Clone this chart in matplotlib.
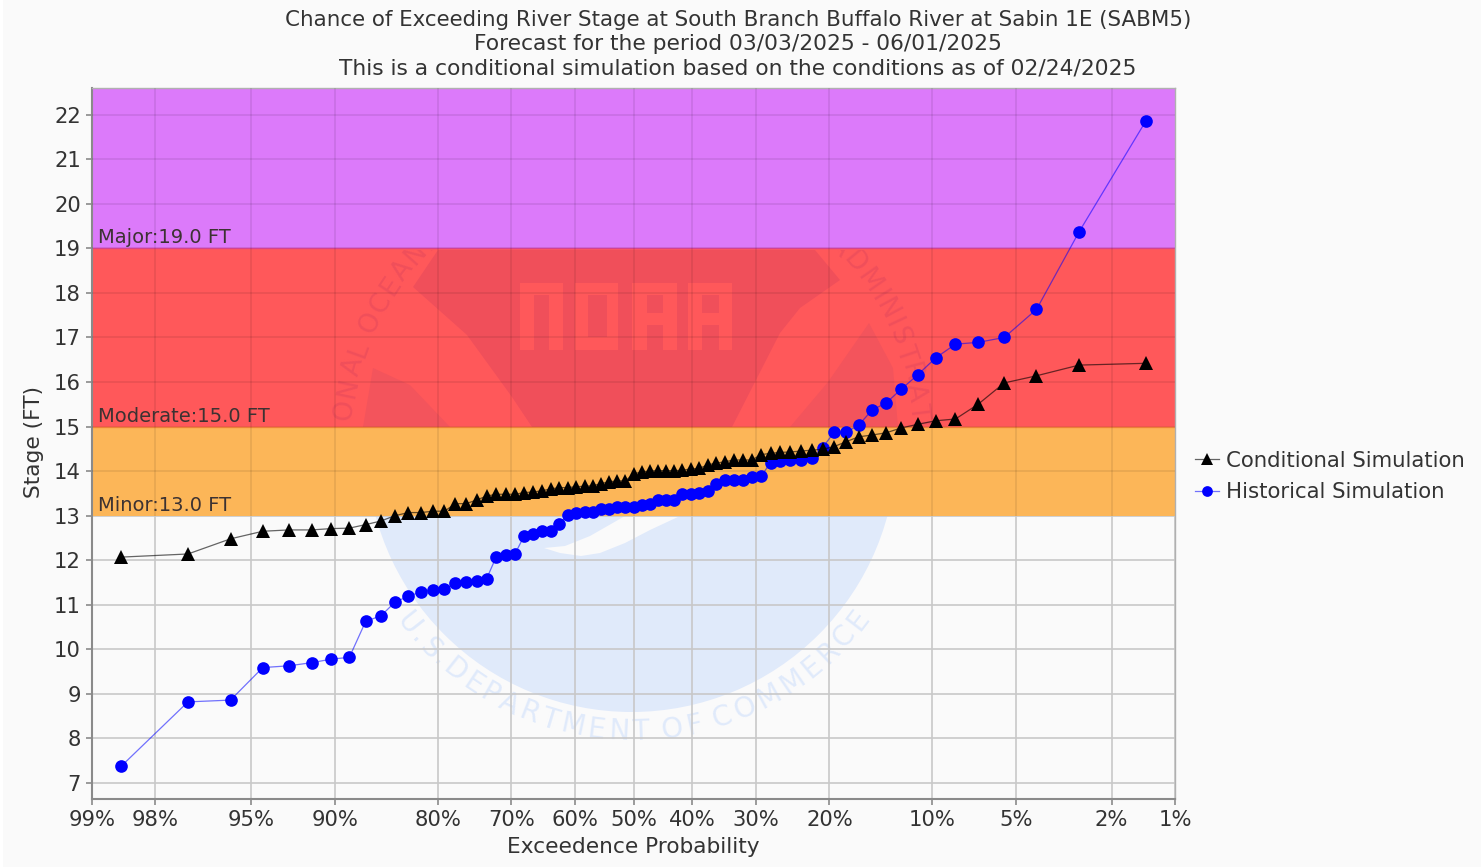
from statistics import NormalDist
import numpy as np
import matplotlib
matplotlib.use("Agg")
import matplotlib.pyplot as plt
from matplotlib.patches import Circle, Polygon, Rectangle
from matplotlib.transforms import Bbox, IdentityTransform, blended_transform_factory
from matplotlib.textpath import TextToPath
from matplotlib.font_manager import FontProperties

# Exceedance probability (%) of each plotted point
exceed_pct = [98.61, 97.22, 95.83, 94.44, 93.06, 91.67, 90.28, 88.89, 87.50, 86.11,
              84.72, 83.33, 81.94, 80.56, 79.17, 77.78, 76.39, 75.00, 73.61, 72.22,
              70.83, 69.44, 68.06, 66.67, 65.28, 63.89, 62.50, 61.11, 59.72, 58.33,
              56.94, 55.56, 54.17, 52.78, 51.39, 50.00, 48.61, 47.22, 45.83, 44.44,
              43.06, 41.67, 40.28, 38.89, 37.50, 36.11, 34.72, 33.33, 31.94, 30.56,
              29.17, 27.78, 26.39, 25.00, 23.61, 22.22, 20.83, 19.44, 18.06, 16.67,
              15.28, 13.89, 12.50, 11.11, 9.72, 8.33, 6.94, 5.56, 4.17, 2.78, 1.39]

conditional = [12.07, 12.14, 12.48, 12.65, 12.68, 12.68, 12.71, 12.72, 12.80, 12.88,
               13.00, 13.07, 13.07, 13.10, 13.10, 13.27, 13.27, 13.35, 13.44, 13.48,
               13.48, 13.48, 13.52, 13.53, 13.56, 13.60, 13.63, 13.63, 13.65, 13.66,
               13.67, 13.72, 13.76, 13.78, 13.78, 13.94, 13.98, 14.00, 14.01, 14.01,
               14.01, 14.02, 14.05, 14.06, 14.14, 14.18, 14.21, 14.25, 14.25, 14.25,
               14.37, 14.40, 14.42, 14.43, 14.45, 14.47, 14.49, 14.55, 14.66, 14.77,
               14.81, 14.86, 14.97, 15.05, 15.13, 15.17, 15.50, 15.98, 16.14, 16.38, 16.42]

historical = [7.38, 8.82, 8.86, 9.59, 9.63, 9.70, 9.78, 9.82, 10.63, 10.75,
              11.06, 11.19, 11.29, 11.34, 11.35, 11.49, 11.50, 11.53, 11.58, 12.08,
              12.11, 12.15, 12.55, 12.59, 12.65, 12.65, 12.82, 13.01, 13.05, 13.09,
              13.09, 13.14, 13.16, 13.20, 13.20, 13.20, 13.24, 13.27, 13.36, 13.36,
              13.36, 13.48, 13.48, 13.52, 13.56, 13.71, 13.81, 13.81, 13.81, 13.86,
              13.89, 14.19, 14.22, 14.24, 14.26, 14.30, 14.53, 14.87, 14.87, 15.03,
              15.37, 15.53, 15.84, 16.16, 16.54, 16.85, 16.89, 17.00, 17.63, 19.37, 21.85]

x_ticks = [99, 98, 95, 90, 80, 70, 60, 50, 40, 30, 20, 10, 5, 2, 1]
y_ticks = list(range(7, 23))
band_labels = ["Minor:13.0 FT", "Moderate:15.0 FT", "Major:19.0 FT"]
band_levels = [13, 15, 19]

titles = ["Chance of Exceeding River Stage at South Branch Buffalo River at Sabin 1E (SABM5)",
          "Forecast for the period 03/03/2025 - 06/01/2025",
          "This is a conditional simulation based on the conditions as of 02/24/2025"]

W, H = 1481, 867
BG = "#fafafa"
TXT = "#333333"
ORANGE = "#fcb658"
RED = "#ff585a"
PURPLE = "#dc7afa"
DARK_RED = "#f04f5a"
WING_RED = "#f3545c"
PALE = "#e0eafa"

_nd = NormalDist()
_ppf = np.vectorize(lambda p: _nd.inv_cdf(min(max(p / 100.0, 1e-6), 1 - 1e-6)), otypes=[float])
_cdf = np.vectorize(lambda z: _nd.cdf(z) * 100.0, otypes=[float])


def px(x, y):
    # picture pixel (y down) to display coords (y up)
    return (x, H - y)


def poly(ax, pts, color, z):
    ax.add_patch(Polygon([px(*p) for p in pts], closed=True, transform=IdentityTransform(),
                         fc=color, ec="none", zorder=z, clip_on=True))


def rect(ax, x0, y0, x1, y1, color, z):
    ax.add_patch(Rectangle(px(x0, y1), x1 - x0, y1 - y0, transform=IdentityTransform(),
                           fc=color, ec="none", zorder=z))


def arc_text(ax, s, start, radius, color, z, clip, clockwise=True, size=19, spread=1.13):
    # letters on a circle round the seal, angle measured from straight up
    fp = FontProperties(family="DejaVu Sans", size=size)
    tp = TextToPath()
    ang = start
    for ch in s:
        w = tp.get_text_width_height_descent(ch if ch != " " else "i", fp, False)[0]
        w = w * 100 / 72
        step = np.degrees(w / radius) * spread
        sign = 1 if clockwise else -1
        a = ang + sign * step / 2
        x = 631.5 + radius * np.sin(np.radians(a))
        y = 447 - radius * np.cos(np.radians(a))
        rot = -a if clockwise else 180 - a
        t = ax.text(*px(x, y), ch, transform=IdentityTransform(), color=color, fontproperties=fp,
                    rotation=rot, rotation_mode="anchor", ha="center", va="center", zorder=z)
        t.set_clip_box(Bbox([px(clip[0], clip[3]), px(clip[2], clip[1])]))
        t.set_clip_on(True)
        ang += sign * step


fig = plt.figure(figsize=(W / 100, H / 100), dpi=100, facecolor=BG)
fig.patches.append(Rectangle((0, 0), 3 / W, 1, transform=fig.transFigure, fc="white", ec="none"))
ax = fig.add_axes([92 / W, 1 - 799 / H, (1175 - 92) / W, (799 - 88) / H], facecolor=BG)

ax.set_xscale("function", functions=(_ppf, _cdf))
ax.set_xlim(99, 1)
ax.set_ylim(6.64, 22.6)

# seal behind the grid and the bands
ax.add_patch(Circle(px(631.5, 447), 265, transform=IdentityTransform(), fc=PALE, ec="none", zorder=0.2))
poly(ax, [(544, 548), (560, 553), (581, 556), (600, 553), (625, 543), (650, 530), (680, 516),
          (625, 516), (590, 536), (565, 546)], BG, 0.3)
arc_text(ax, "U.S.DEPARTMENT OF COMMERCE", 234, 285, PALE, 0.4, (92, 516, 1175, 799),
         clockwise=False, size=20, spread=1.17)

ax.axhspan(13, 15, color=ORANGE, lw=0, zorder=1.5)
ax.axhspan(15, 19, color=RED, lw=0, zorder=1.5)
ax.axhspan(19, 22.6, color=PURPLE, lw=0, zorder=1.5)

# seal showing through the red band
red_clip = (92, 250, 1175, 427)
arc_text(ax, "ONAL OCEANIC", -85, 289, DARK_RED, 1.7, red_clip)
arc_text(ax, "ADMINISTRATION", 44, 289, DARK_RED, 1.7, red_clip)
poly(ax, [(438, 250), (413, 287), (467, 335), (512, 397), (532, 427), (732, 427), (757, 378),
          (780, 333), (800, 308), (840, 280), (815, 250)], DARK_RED, 1.8)
poly(ax, [(373, 368), (410, 385), (450, 427), (363, 427)], WING_RED, 1.8)
poly(ax, [(790, 427), (828, 382), (869, 323), (893, 368), (898, 427)], WING_RED, 1.8)
for x0, x1 in [(520, 563), (575, 618), (632, 677), (688, 732)]:
    rect(ax, x0, 283, x1, 350, RED, 1.9)
rect(ax, 534, 295, 549, 350, DARK_RED, 1.95)
rect(ax, 588, 295, 607, 337, DARK_RED, 1.95)
for x0, x1 in [(647, 663), (702, 719)]:
    rect(ax, x0, 295, x1, 313, DARK_RED, 1.95)
    rect(ax, x0, 325, x1, 350, DARK_RED, 1.95)

ax.axhline(15, color="#ff8a3c", lw=1, zorder=2)
ax.axhline(19, color="#e8489a", lw=1, zorder=2)

ax.plot(exceed_pct, historical, color=(0, 0, 1, 0.55), lw=0.9, marker="o", ms=9.1, mew=0, mfc="#0000ff",
        label="Historical Simulation", zorder=4)
ax.plot(exceed_pct, conditional, color=(0, 0, 0, 0.6), lw=0.9, marker="^", ms=9.5, mew=0, mfc="#000000",
        label="Conditional Simulation", zorder=5)

ax.set_xticks(x_ticks)
ax.set_xticklabels([f"{p}%" for p in x_ticks])
ax.set_yticks(y_ticks)
ax.minorticks_off()
ax.tick_params(axis="both", labelsize=15.2, labelcolor=TXT, color="#8a8a8a", length=4, width=1.2, pad=4)

# grey grid under the bands, faint darkening where the bands cover it
ax.set_axisbelow(True)
ax.grid(True, color="#c8c8c8", lw=1.2)
ax.vlines(x_ticks[1:-1], 13, 22.6, color="black", alpha=0.09, lw=1.2, zorder=3)
ax.hlines([v for v in y_ticks if v > 13], 99, 1, color="black", alpha=0.09, lw=1.2, zorder=3)

for side in ["left", "bottom"]:
    ax.spines[side].set_color("#8a8a8a")
    ax.spines[side].set_linewidth(1.5)
for side in ["top", "right"]:
    ax.spines[side].set_color("#b0b0b0")
    ax.spines[side].set_linewidth(1)

tr = blended_transform_factory(ax.transAxes, ax.transData)
for lab, lev in zip(band_labels, band_levels):
    ax.annotate(lab, xy=(0, lev), xycoords=tr, xytext=(6, 1), textcoords="offset pixels",
                fontsize=14.05, color="#3c3232", va="bottom", ha="left", zorder=6)

for t, yp, fs in zip(titles, [20, 44, 69], [15.4, 15.7, 15.65]):
    fig.text(738 / W, 1 - yp / H, t, fontsize=fs, color=TXT, ha="center", va="center")
fig.text(633 / W, 1 - 847 / H, "Exceedence Probability", fontsize=15.6, color=TXT, ha="center", va="center")
fig.text(34 / W, 1 - 442 / H, "Stage (FT)", fontsize=15.6, color=TXT, ha="center", va="center", rotation=90)

handles, labels = ax.get_legend_handles_labels()
leg = fig.legend(handles[::-1], labels[::-1], loc="center left", bbox_to_anchor=(1195 / W, 1 - 476.5 / H),
                 frameon=False, fontsize=15.3, handlelength=1.13, handletextpad=0.32,
                 labelspacing=0.55, markerscale=0.85, borderpad=0, borderaxespad=0)
for t in leg.get_texts():
    t.set_color(TXT)

fig.savefig("out.png", dpi=100, facecolor=BG)
